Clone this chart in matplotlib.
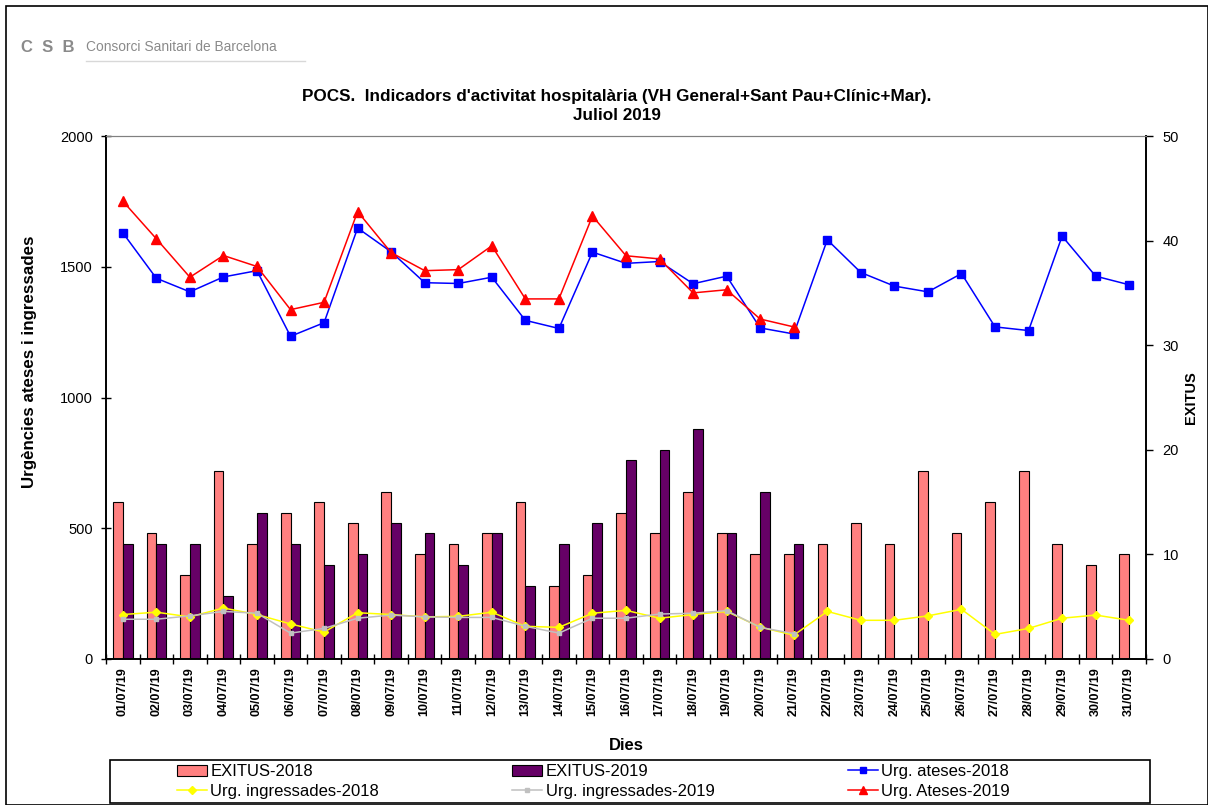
import matplotlib
matplotlib.use("Agg")
import matplotlib.pyplot as plt
from matplotlib.patches import Rectangle
from matplotlib.lines import Line2D
import numpy as np

plt.rcParams['font.family'] = ['Liberation Sans', 'DejaVu Sans']

# Data
days = [f"{d:02d}/07/19" for d in range(1, 32)]

exitus_2018 = [15, 12, 8, 18, 11, 14, 15, 13, 16, 10, 11, 12, 15, 7, 8, 14,
               12, 16, 12, 10, 10, 11, 13, 11, 18, 12, 15, 18, 11, 9, 10]
exitus_2019 = [11, 11, 11, 6, 14, 11, 9, 10, 13, 12, 9, 12, 7, 11, 13, 19,
               20, 22, 12, 16, 11]

ateses_2018 = [1630, 1456, 1404, 1461, 1485, 1234, 1286, 1648, 1557, 1439,
               1436, 1460, 1295, 1264, 1556, 1513, 1520, 1435, 1464, 1266,
               1243, 1603, 1478, 1426, 1404, 1474, 1270, 1256, 1617, 1464, 1431]
ateses_2019 = [1751, 1607, 1460, 1543, 1501, 1336, 1364, 1711, 1554, 1485,
               1489, 1580, 1377, 1377, 1694, 1542, 1530, 1400, 1412, 1300, 1270]

ingressades_2018 = [170, 179, 161, 195, 170, 134, 103, 177, 170, 161, 163,
                    179, 125, 121, 175, 186, 156, 170, 182, 122, 91, 182,
                    148, 148, 165, 190, 94, 117, 156, 168, 148]
ingressades_2019 = [152, 152, 165, 182, 175, 99, 117, 156, 168, 161, 159,
                    159, 125, 99, 156, 156, 172, 175, 185, 121, 97]

W, H = 1208, 805
fig = plt.figure(figsize=(W / 100, H / 100), dpi=100)

# Axes placement in pixels
x0, x1, y0, y1 = 106, 1146, 136, 659
ax = fig.add_axes([x0 / W, 1 - y1 / H, (x1 - x0) / W, (y1 - y0) / H])
ax2 = ax.twinx()

x = np.arange(len(days))
bw = 0.29

# Bars (right axis, EXITUS)
ax2.bar(x[:len(exitus_2018)] - bw / 2, exitus_2018, width=bw,
        color="#FF8080", edgecolor="black", linewidth=0.8)
ax2.bar(x[:len(exitus_2019)] + bw / 2, exitus_2019, width=bw,
        color="#660066", edgecolor="black", linewidth=0.8)
ax2.set_ylim(0, 50)
ax2.set_yticks(range(0, 51, 10))

# Lines (left axis)
ax.plot(x[:len(ateses_2018)], ateses_2018, color="#0000FF", lw=1.1,
        marker="s", ms=6)
ax.plot(x[:len(ingressades_2018)], ingressades_2018, color="#FFFF00", lw=1.1,
        marker="D", ms=4.5)
ax.plot(x[:len(ingressades_2019)], ingressades_2019, color="#C0C0C0", lw=1.1,
        marker="s", ms=2.8)
ax.plot(x[:len(ateses_2019)], ateses_2019, color="#FF0000", lw=1.1,
        marker="^", ms=6.5)
ax.set_ylim(0, 2000)
ax.set_yticks(range(0, 2001, 500))

# lines above the bars
ax.set_zorder(ax2.get_zorder() + 1)
ax.patch.set_visible(False)

ax.set_xlim(-0.5, len(days) - 0.5)
ax.set_xticks(x)
ax.set_xticklabels(days, rotation=90, fontsize=9, fontweight="bold")
ax.set_xticks(np.arange(-0.5, len(days), 1), minor=True)
ax.tick_params(axis="x", which="major", length=0, pad=6)
ax.tick_params(axis="x", which="minor", length=7, direction="inout",
               width=1)
ax.tick_params(axis="y", length=7, direction="inout", width=1,
               labelsize=10.5, pad=6)
ax2.tick_params(axis="y", length=5, direction="out", width=1,
                labelsize=10.5, pad=7)

for a in (ax, ax2):
    a.spines["top"].set_color("#808080")
    a.spines["left"].set_linewidth(1.2)
    a.spines["right"].set_linewidth(1.2)
    a.spines["bottom"].set_linewidth(1.2)

# Texts
fig.text(617 / W, 1 - 97 / H,
         "POCS.  Indicadors d'activitat hospitalària (VH General+Sant Pau+Clínic+Mar).",
         ha="center", va="center", fontsize=12.3, fontweight="bold")
fig.text(617 / W, 1 - 115 / H, "Juliol 2019", ha="center", va="center",
         fontsize=12.3, fontweight="bold")
fig.text(30 / W, 1 - 362 / H, "Urgències ateses i ingressades", rotation=90,
         ha="center", va="center", fontsize=12.2, fontweight="bold")
fig.text(1191 / W, 1 - 398 / H, "EXITUS", rotation=90, ha="center",
         va="center", fontsize=10.5, fontweight="bold")
fig.text(626 / W, 1 - 745 / H, "Dies", ha="center", va="center",
         fontsize=12, fontweight="bold")

# Logo
fig.text(21 / W, 1 - 47 / H, "C  S  B", ha="left", va="center",
         fontsize=12, fontweight="bold", color="#8a8a8a")
fig.text(86 / W, 1 - 47 / H, "Consorci Sanitari de Barcelona", ha="left",
         va="center", fontsize=9.9, color="#8a8a8a")
fig.add_artist(Line2D([86 / W, 305 / W], [1 - 61 / H, 1 - 61 / H],
                      color="#d8d8d8", lw=1))

# Outer frame
fig.add_artist(Rectangle((6 / W, 0), 1 - 6 / W, 1 - 6 / H, fill=False,
                         edgecolor="black", lw=1.2,
                         transform=fig.transFigure))

# Legend (row order as in Excel)
handles = {
    "EXITUS-2018": Rectangle((0, 0), 1, 1, facecolor="#FF8080",
                             edgecolor="black", lw=0.8),
    "EXITUS-2019": Rectangle((0, 0), 1, 1, facecolor="#660066",
                             edgecolor="black", lw=0.8),
    "Urg. ateses-2018": Line2D([], [], color="#0000FF", lw=1.1, marker="s",
                               ms=5),
    "Urg. ingressades-2018": Line2D([], [], color="#FFFF00", lw=1.1,
                                    marker="D", ms=4),
    "Urg. ingressades-2019": Line2D([], [], color="#C0C0C0", lw=1.1,
                                    marker="s", ms=2.8),
    "Urg. Ateses-2019": Line2D([], [], color="#FF0000", lw=1.1, marker="^",
                               ms=6),
}
order = ["EXITUS-2018", "Urg. ingressades-2018", "EXITUS-2019",
         "Urg. ingressades-2019", "Urg. ateses-2018", "Urg. Ateses-2019"]
fig.legend([handles[k] for k in order], order, ncol=3, loc="center left",
           bbox_to_anchor=(177 / W, 1 - 781.5 / H),
           bbox_transform=fig.transFigure, frameon=False, fontsize=12,
           handlelength=1.8, handletextpad=0.2, columnspacing=8.0,
           labelspacing=0.28, borderpad=0, borderaxespad=0, numpoints=1)
fig.add_artist(Rectangle((110 / W, 1 - 803 / H), 1040 / W, 43 / H,
                         fill=False, edgecolor="black", lw=1.2,
                         transform=fig.transFigure))

fig.savefig("out.png", dpi=100)
